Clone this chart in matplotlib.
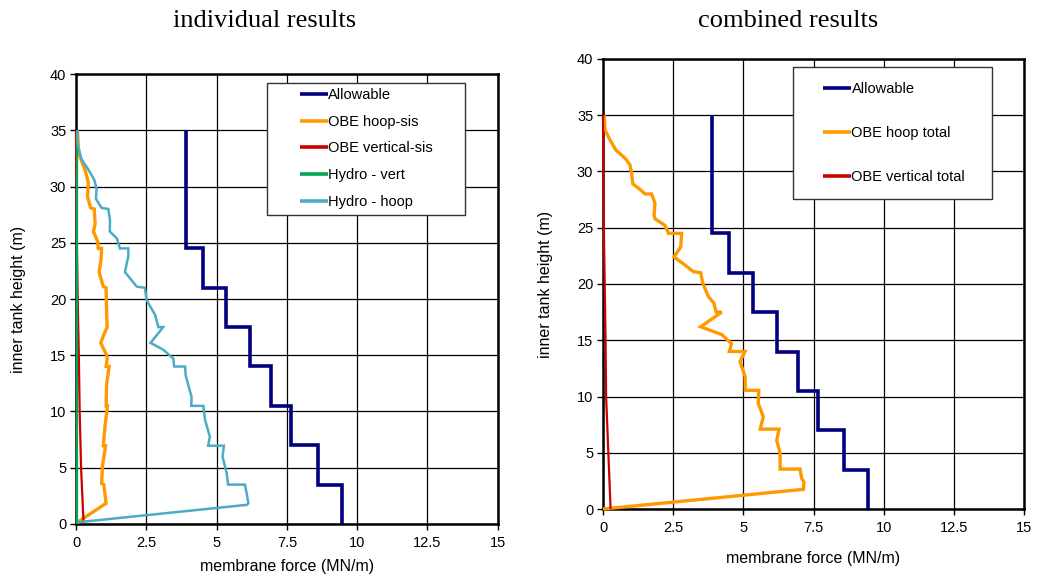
import numpy as np
import matplotlib
matplotlib.use("Agg")
import matplotlib.pyplot as plt
from matplotlib.patches import Rectangle

plt.rcParams["font.family"] = ["Liberation Sans", "DejaVu Sans"]

# ── data ────────────────────────────────────────────
allow_h = [35, 24.5, 21, 17.5, 14, 10.5, 7, 3.5, 0]
allow_v = [3.9, 4.5, 5.35, 6.2, 6.95, 7.65, 8.6, 9.45]

# individual results
obe_hoop_x = [0.05, 0.10, 0.32, 0.44, 0.41, 0.52, 0.65, 0.68, 0.62, 0.77, 0.79, 0.91,
              0.89, 0.82, 0.97, 1.07, 1.09, 1.11, 1.00, 0.88, 1.09, 1.11, 1.07, 1.18,
              1.09, 1.07, 1.12, 1.03, 0.97, 1.05, 0.94, 0.91, 0.99, 1.07, 0.05]
obe_hoop_y = [35, 32.9, 31.5, 30.3, 29.1, 28.1, 28.0, 26.7, 26.0, 25.1, 24.5, 24.5,
              23.5, 22.4, 21.1, 21.0, 18.7, 17.5, 16.9, 16.1, 15.0, 14.7, 14.0, 14.0,
              12.5, 10.5, 10.5, 8.65, 6.96, 6.96, 5.1, 3.6, 3.5, 1.84, 0.15]

obe_vert_x = [0.0, 0.03, 0.06, 0.10, 0.13, 0.18, 0.27]
obe_vert_y = [35, 25, 20, 15, 10, 5, 0]

hydro_vert_x = [0.02, 0.02]
hydro_vert_y = [0, 35]

hydro_hoop_x = [0.05, 0.05, 0.20, 0.44, 0.65, 0.73, 0.71, 0.91, 1.15, 1.21, 1.20, 1.45,
                1.56, 1.86, 1.86, 1.74, 2.16, 2.45, 2.51, 2.81, 2.93, 3.10, 2.65, 3.10,
                3.46, 3.49, 3.88, 3.90, 4.11, 4.10, 4.53, 4.59, 4.76, 4.70, 5.26, 5.21,
                5.36, 5.41, 6.01, 6.07, 6.13, 6.07, 0.05]
hydro_hoop_y = [35, 33.8, 32.4, 31.5, 30.6, 29.8, 28.9, 28.1, 28.0, 27.0, 26.0, 25.4,
                24.5, 24.5, 23.8, 22.4, 21.1, 21.0, 19.9, 18.6, 17.5, 17.5, 16.1, 15.5,
                14.7, 14.0, 14.0, 13.2, 11.3, 10.5, 10.5, 9.25, 7.76, 6.96, 6.96, 6.0,
                4.5, 3.5, 3.5, 2.7, 1.84, 1.7, 0.15]

# combined results
hoop_tot_x = [0.04, 0.07, 0.25, 0.46, 0.78, 0.96, 1.02, 1.06, 1.32, 1.50, 1.73, 1.85,
              1.82, 1.85, 2.21, 2.33, 2.80, 2.77, 2.53, 2.86, 3.22, 3.48, 3.55, 3.75,
              3.95, 4.03, 4.23, 3.48, 4.23, 4.58, 4.50, 5.06, 4.88, 5.06, 5.07, 5.55,
              5.53, 5.71, 5.60, 6.27, 6.19, 6.31, 6.31, 7.02, 7.08, 7.16, 7.14, 0.0]
hoop_tot_y = [35, 33.7, 32.8, 31.9, 31.2, 30.6, 29.8, 28.9, 28.4, 28.0, 28.0, 27.2,
              26.1, 25.8, 25.2, 24.5, 24.5, 23.3, 22.4, 21.8, 21.1, 21.0, 20.1, 18.9,
              18.3, 17.5, 17.5, 16.2, 15.5, 14.7, 14.0, 14.0, 13.1, 11.8, 10.55, 10.55,
              9.4, 8.2, 7.1, 7.1, 6.1, 4.95, 3.55, 3.55, 2.7, 2.4, 1.75, 0.0]

vert_tot_x = [0.0, 0.03, 0.09, 0.11, 0.19, 0.27]
vert_tot_y = [35, 25, 15, 10, 5, 0]

C_ALLOW = "#000080"
C_HOOP = "#FF9900"
C_VERT = "#CC0000"
C_HVERT = "#00A651"
C_HHOOP = "#4BACC6"

allow_x = np.repeat(allow_v, 2)
allow_y = np.column_stack([allow_h[:-1], allow_h[1:]]).ravel()

fig = plt.figure(figsize=(10.37, 5.76), dpi=100)
ax1 = fig.add_axes([0.0733, 0.0903, 0.4067, 0.7812])
ax2 = fig.add_axes([0.5815, 0.1163, 0.4060, 0.7813])


def style_axes(ax, xpad):
    ax.set_xlim(0, 15)
    ax.set_ylim(0, 40)
    ax.set_xticks(np.arange(0, 15.1, 2.5))
    ax.set_xticklabels(["0", "2.5", "5", "7.5", "10", "12.5", "15"])
    ax.set_yticks(np.arange(0, 41, 5))
    ax.grid(True, color="black", linewidth=0.9)
    ax.set_axisbelow(True)
    for s in ax.spines.values():
        s.set_linewidth(1.8)
        s.set_color("black")
    ax.tick_params(direction="out", length=4, width=1, labelsize=10.5, pad=3)
    ax.tick_params(axis="x", pad=4.5)
    ax.set_xlabel("membrane force (MN/m)", fontsize=11.5, labelpad=xpad)
    ax.set_ylabel("inner tank height (m)", fontsize=11.5, labelpad=17)


def legend_box(ax, x0, y0, x1, y1, anchor, spacing):
    # framed box is drawn separately, wider than the legend content
    ax.add_patch(Rectangle((x0, y0), x1 - x0, y1 - y0, transform=ax.transAxes,
                           facecolor="white", edgecolor="#333333", lw=1.0, zorder=5))
    leg = ax.legend(loc="upper left", bbox_to_anchor=anchor, fontsize=10.5,
                    frameon=False, handlelength=1.9, handletextpad=0.05,
                    labelspacing=spacing, borderpad=0, borderaxespad=0)
    leg.set_zorder(6)
    for h in leg.get_lines():
        h.set_linewidth(2.6)
    return leg


lk = dict(clip_on=False, zorder=4, solid_capstyle="butt", solid_joinstyle="miter")

ax1.plot(allow_x, allow_y, color=C_ALLOW, lw=2.6, label="Allowable", **lk)
ax1.plot(obe_hoop_x, obe_hoop_y, color=C_HOOP, lw=2.4, label="OBE hoop-sis", **lk)
ax1.plot(obe_vert_x, obe_vert_y, color=C_VERT, lw=1.6, label="OBE vertical-sis", **lk)
ax1.plot(hydro_vert_x, hydro_vert_y, color=C_HVERT, lw=1.6, label="Hydro - vert", **lk)
ax1.plot(hydro_hoop_x, hydro_hoop_y, color=C_HHOOP, lw=1.8, label="Hydro - hoop", **lk)
style_axes(ax1, 6.5)
legend_box(ax1, 0.453, 0.687, 0.922, 0.980, (0.531, 0.969), 0.87)

ax2.plot(allow_x, allow_y, color=C_ALLOW, lw=2.6, label="Allowable", **lk)
ax2.plot(hoop_tot_x, hoop_tot_y, color=C_HOOP, lw=2.4, label="OBE hoop total", **lk)
ax2.plot(vert_tot_x, vert_tot_y, color=C_VERT, lw=1.6, label="OBE vertical total", **lk)
style_axes(ax2, 12)
legend_box(ax2, 0.451, 0.689, 0.924, 0.982, (0.5226, 0.949), 2.05)

fig.text(265 / 1037, 1 - 21 / 576, "individual results", ha="center", va="center",
         fontsize=19, family="Liberation Serif")
fig.text(788 / 1037, 1 - 21 / 576, "combined results", ha="center", va="center",
         fontsize=19, family="Liberation Serif")

fig.savefig("out.png", dpi=100)
